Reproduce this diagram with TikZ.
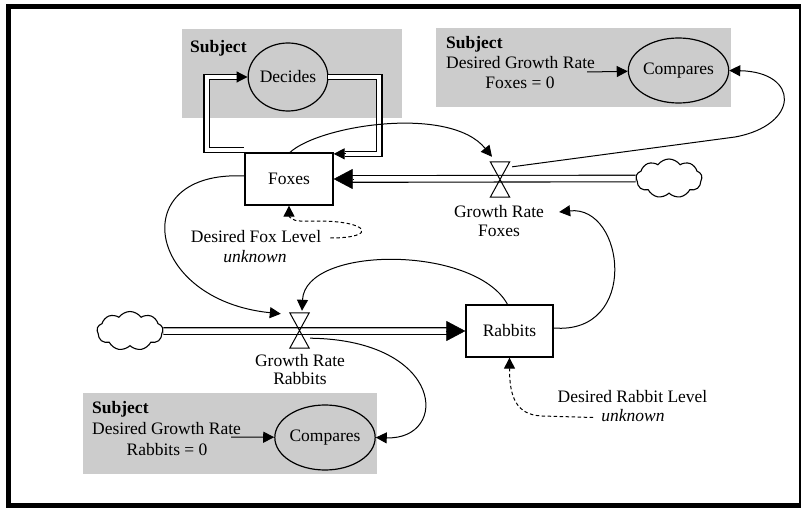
\documentclass[tikz,border=0pt]{standalone}
\usepackage{fontspec}
\setmainfont{Liberation Serif}
\usetikzlibrary{arrows.meta,shapes.geometric,shapes.symbols,calc}
\definecolor{panelgrey}{RGB}{204,204,204}
\begin{document}
\begin{tikzpicture}[x=1pt,y=-1pt, font=\fontsize{17.5}{20}\selectfont,
  box/.style={draw, line width=1.3pt, inner sep=0pt},
  ell/.style={draw, ellipse, line width=1.2pt, inner sep=0pt},
  panel/.style={fill=panelgrey, anchor=north west, inner sep=0pt},
  lnk/.style={line width=1pt, -{Triangle[length=11pt,width=11pt]}},
  dlnk/.style={lnk, dash pattern=on 3.5pt off 2.5pt},
  dbl/.style={double, double distance=4pt, line width=1.1pt},
  pipe/.style={double, double distance=5.5pt, line width=1.1pt},
  bigarr/.style={line width=0.5pt, -{Triangle[length=19pt,width=20pt]}},
  valve/.style={inner sep=0pt, minimum width=19pt, minimum height=35pt},
  vline/.style={line width=1pt, line join=miter},
  txt/.style={inner sep=0pt, anchor=base},
  txtl/.style={inner sep=0pt, anchor=base west},
  cloudy/.style={cloud, draw, line width=1.1pt, cloud puffs=9, cloud puff arc=110, minimum width=66pt, minimum height=39pt, inner sep=0pt}
]
\useasboundingbox (0,0) rectangle (801,508);
\fill[white] (0,0) rectangle (801,508);
\draw[line width=5pt] (8.5,6.5) rectangle (801.5,505.5);

% grey panels
\node[panel, minimum width=220pt, minimum height=89pt] (p1) at (182,29) {};
\node[panel, minimum width=295pt, minimum height=79pt] (p2) at (436,28) {};
\node[panel, minimum width=294pt, minimum height=81pt] (p3) at (83,393) {};

% panel texts
\node[txtl, font=\fontsize{17.5}{20}\selectfont\bfseries] (s1) at (190,53) {Subject};
\node[txtl, font=\fontsize{17.5}{20}\selectfont\bfseries] (s2) at (446,49) {Subject};
\node[txtl] (dgF) at (446,69) {Desired Growth Rate};
\node[txt] (fz0) at (520,89) {Foxes = 0};
\node[txtl, font=\fontsize{17.5}{20}\selectfont\bfseries] (s3) at (92,413) {Subject};
\node[txtl] (dgR) at (92,434) {Desired Growth Rate};
\node[txt] (rb0) at (167,455) {Rabbits = 0};

% ellipses
\node[ell, minimum width=78pt, minimum height=68pt] (decides) at (288,77) {Decides};
\node[ell, minimum width=93pt, minimum height=65pt] (cmpF) at (678.5,70.5) {Compares};
\node[ell, minimum width=96pt, minimum height=65pt] (cmpR) at (325,437.5) {Compares};

% stocks
\node[box, minimum width=88pt, minimum height=52pt] (foxes) at (289,179) {Foxes};
\node[box, minimum width=87pt, minimum height=52pt] (rabbits) at (509.5,331) {Rabbits};

% clouds
\node[cloudy] (cloudF) at (669,178.5) {};
\node[cloudy] (cloudR) at (130,331) {};

% valves
\node[valve] (vF) at (500,179.5) {};
\node[valve] (vR) at (299.5,330.5) {};

% pipes
\draw[pipe] (cloudF.west) -- ([xshift=18pt]foxes.east);
\draw[bigarr] ([xshift=19pt]foxes.east) -- (foxes.east);
\draw[pipe] (cloudR.east) -- ([xshift=-18pt]rabbits.west);
\draw[bigarr] ([xshift=-19pt]rabbits.west) -- (rabbits.west);

\draw[vline] (vF.center) -- (vF.north west) -- (vF.north east) -- cycle
             (vF.center) -- (vF.south west) -- (vF.south east) -- cycle;
\draw[vline] (vR.center) -- (vR.north west) -- (vR.north east) -- cycle
             (vR.center) -- (vR.south west) -- (vR.south east) -- cycle;

% valve labels
\node[txt] (grF1) at (499,217.5) {Growth Rate};
\node[txt] (grF2) at (499,236.5) {Foxes};
\node[txt] (grR1) at (300,366.5) {Growth Rate};
\node[txt] (grR2) at (300,384) {Rabbits};

% desired levels
\node[txt] (dfl) at (256,242) {Desired Fox Level};
\node[txt, font=\fontsize{17.5}{20}\selectfont\itshape] (unkF) at (255,262) {unknown};
\node[txt] (drl) at (632.5,402.7) {Desired Rabbit Level};
\node[txt, font=\fontsize{17.5}{20}\selectfont\itshape] (unkR) at (633,421.5) {unknown};

% decides loop (double lines)
\draw[dbl] ([yshift=2.5pt]foxes.north west) -| ([xshift=-41pt]decides.west) -- ([xshift=-10pt]decides.west);
\draw[lnk] ([xshift=-11pt]decides.west) -- (decides.west);
\draw[dbl] (decides.east) -- ++(51,0) |- ([xshift=11pt,yshift=-1.5pt]foxes.north east);
\draw[lnk] ([xshift=12pt,yshift=-1.5pt]foxes.north east) -- ([yshift=-1.5pt]foxes.north east);

% panel arrows
\draw[lnk] ([xshift=-8pt,yshift=-3pt]dgF.base east) -- (cmpF);
\draw[lnk] ([xshift=-10pt,yshift=-3pt]dgR.base east) -- (cmpR);

% information links
\draw[lnk] ([xshift=1pt]foxes.north) .. controls (320,125) and (450,105) .. ([xshift=-8pt,yshift=5pt]vF.north);
\draw[lnk] ([xshift=2.5pt,yshift=-5pt]vF.north east) -- (735,137) .. controls (800,125) and (800,72) .. (cmpF.east);
\draw[lnk] ([yshift=3pt]foxes.west) .. controls (125,170) and (145,300) .. ([xshift=-9pt,yshift=-1pt]vR.north west);
\draw[lnk] ([xshift=-2pt]rabbits.north) .. controls (475,245) and (305,245) .. ([xshift=2.5pt,yshift=2pt]vR.north);
\draw[lnk] ([yshift=3pt]rabbits.east) .. controls (640,335) and (625,205) .. ([xshift=15pt,yshift=5.5pt]grF1.base east);
\draw[lnk] ([xshift=1pt,yshift=10pt]vR.south east) .. controls (445,340) and (450,440) .. (cmpR.east);

% dashed links
\draw[dlnk] ([xshift=9pt,yshift=4pt]dfl.base east) .. controls +(48,0) and +(52,0) .. (318,221) -- (300,221) .. controls (292,221) and (289,216) .. (foxes.south);
\draw[dlnk] ([xshift=-8pt,yshift=4pt]unkR.base west) -- (542,416) .. controls (515,415) and (509.5,395) .. (rabbits.south);
\end{tikzpicture}
\end{document}
